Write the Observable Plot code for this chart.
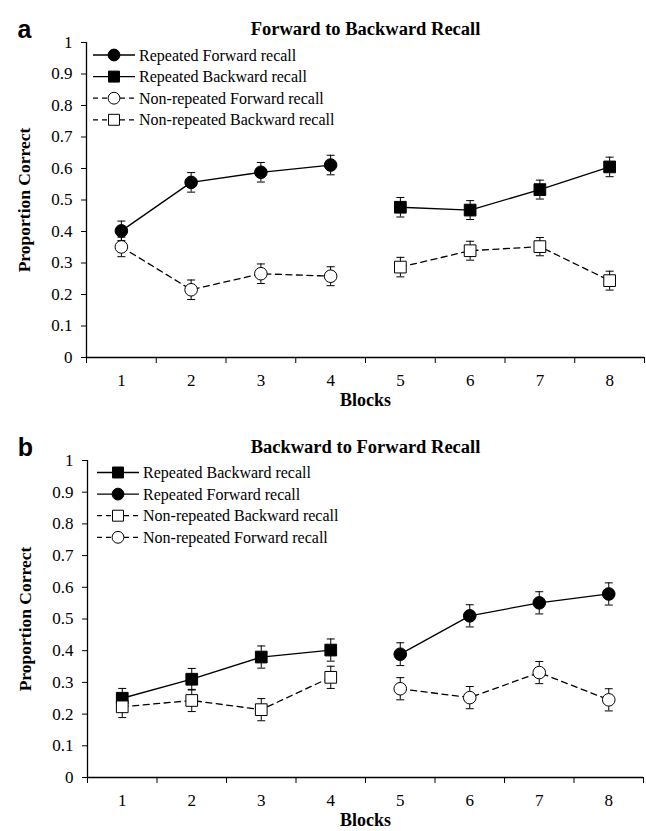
<!DOCTYPE html>
<html><head><meta charset="utf-8">
<script src="https://cdn.jsdelivr.net/npm/d3@7"></script>
<script src="https://cdn.jsdelivr.net/npm/@observablehq/plot@0.6"></script>
<style>
body{margin:0;background:#fff}
#chart{width:646px;height:831px}
#chart svg{display:block;overflow:visible;font-family:'Liberation Serif','Times New Roman',serif !important;font-size:17px !important;color:black}
</style>
</head><body><div id="chart"></div>
<script>
// ---- data ----
const blocksFirst = [1, 2, 3, 4];
const blocksSecond = [5, 6, 7, 8];
const xTickLabels = [1, 2, 3, 4, 5, 6, 7, 8];
const xBoundaries = [0.5, 1.5, 2.5, 3.5, 4.5, 5.5, 6.5, 7.5, 8.5];
const yTicks = [0, 0.1, 0.2, 0.3, 0.4, 0.5, 0.6, 0.7, 0.8, 0.9, 1];

// Panel a: Forward to Backward Recall
const aRepeatedForward = [0.402, 0.556, 0.588, 0.611];
const aRepeatedForwardErr = [0.031, 0.031, 0.031, 0.031];
const aRepeatedBackward = [0.477, 0.468, 0.533, 0.605];
const aRepeatedBackwardErr = [0.031, 0.030, 0.030, 0.031];
const aNonForward = [0.351, 0.215, 0.266, 0.258];
const aNonForwardErr = [0.031, 0.031, 0.031, 0.030];
const aNonBackward = [0.287, 0.339, 0.352, 0.244];
const aNonBackwardErr = [0.031, 0.030, 0.029, 0.030];

// Panel b: Backward to Forward Recall
const bRepeatedBackward = [0.250, 0.310, 0.380, 0.402];
const bRepeatedBackwardErr = [0.031, 0.034, 0.035, 0.035];
const bRepeatedForward = [0.389, 0.510, 0.551, 0.579];
const bRepeatedForwardErr = [0.036, 0.035, 0.035, 0.035];
const bNonBackward = [0.223, 0.243, 0.214, 0.316];
const bNonBackwardErr = [0.034, 0.035, 0.035, 0.035];
const bNonForward = [0.280, 0.252, 0.331, 0.245];
const bNonForwardErr = [0.035, 0.035, 0.035, 0.035];

const serif = "'Liberation Serif','Times New Roman',serif";
const cap = {draw(ctx) { ctx.moveTo(-4, 0); ctx.lineTo(4, 0); }};

function series(name, blocks, values, err, shape, filled, dashed) {
  return {name, shape, filled, dashed,
    rows: blocks.map((b, i) => ({x: b, y: values[i], e: err[i]}))};
}

function panel(cfg) {
  const marks = [
    Plot.axisY(yTicks, {tickSize: 5, tickPadding: 9, label: null,
      tickFormat: d => String(+d.toFixed(1))}),
    Plot.axisX(xBoundaries, {tickSize: 6, tickFormat: () => "", label: null}),
    Plot.axisX(xTickLabels, {tickSize: 0, tickPadding: 16, label: null}),
    Plot.ruleX([0.5], {stroke: "black", strokeWidth: 1.3}),
    Plot.ruleY([0], {stroke: "black", strokeWidth: 1.3})
  ];
  for (const s of cfg.series) {
    marks.push(Plot.line(s.rows, {x: "x", y: "y", stroke: "black", strokeWidth: 1.3,
      strokeDasharray: s.dashed ? "6,4.5" : null}));
  }
  for (const s of cfg.series) {
    marks.push(Plot.ruleX(s.rows, {x: "x", y1: d => d.y - d.e, y2: d => d.y + d.e, stroke: "black", strokeWidth: 1}));
    marks.push(Plot.dot(s.rows, {x: "x", y: d => d.y + d.e, symbol: cap, fill: "none", stroke: "black", strokeWidth: 1}));
    marks.push(Plot.dot(s.rows, {x: "x", y: d => d.y - d.e, symbol: cap, fill: "none", stroke: "black", strokeWidth: 1}));
  }
  for (const s of cfg.series) {
    marks.push(Plot.dot(s.rows, {x: "x", y: "y", symbol: s.shape,
      r: s.shape === "square" ? 6.6 : 6.3,
      fill: s.filled ? "black" : "white", stroke: "black", strokeWidth: 1}));
  }
  marks.push(Plot.text([cfg.title], {text: d => d, frameAnchor: "top", dy: -21,
    fontWeight: "bold", fontSize: 18.5, fontFamily: serif, textAnchor: "middle"}));
  marks.push(Plot.text([cfg.letter], {text: d => d, frameAnchor: "top-left", dx: -62, dy: -22,
    fontWeight: "bold", fontSize: 25, fontFamily: "'Liberation Sans',Arial,sans-serif", textAnchor: "middle"}));
  marks.push(Plot.text(["Proportion Correct"], {text: d => d, frameAnchor: "left", dx: -62, rotate: -90,
    fontWeight: "bold", fontSize: 17.5, fontFamily: serif, textAnchor: "middle"}));
  marks.push(Plot.text(["Blocks"], {text: d => d, frameAnchor: "bottom", dy: 48,
    fontWeight: "bold", fontSize: 18, fontFamily: serif, textAnchor: "middle"}));

  const svg = Plot.plot({
    width: 646, height: cfg.height,
    marginTop: cfg.marginTop, marginBottom: cfg.marginBottom,
    marginLeft: cfg.marginLeft, marginRight: cfg.marginRight,
    x: {domain: [0.5, 8.5]},
    y: {domain: [0, 1]},
    style: {fontFamily: serif, fontSize: "17px", color: "black", background: "white"},
    marks
  });

  // legend
  const g = d3.select(svg).append("g").attr("font-family", serif).attr("font-size", 16)
    .attr("text-anchor", "start");
  cfg.series.forEach((s, i) => {
    const y = cfg.legendTop + i * 21.6;
    const x0 = cfg.legendX;
    g.append("line").attr("x1", x0).attr("x2", x0 + 42).attr("y1", y).attr("y2", y)
      .attr("stroke", "black").attr("stroke-width", 1.3)
      .attr("stroke-dasharray", s.dashed ? "5,4" : null);
    const size = s.shape === "square" ? 120 : 110;
    g.append("path").attr("transform", `translate(${x0 + 21},${y})`)
      .attr("d", d3.symbol(s.shape === "square" ? d3.symbolSquare : d3.symbolCircle, size)())
      .attr("fill", s.filled ? "black" : "white").attr("stroke", "black").attr("stroke-width", 1);
    g.append("text").attr("x", x0 + 46).attr("y", y).attr("dy", "0.35em")
      .attr("text-anchor", "start").text(s.name);
  });
  return svg;
}

const chart = document.getElementById("chart");
chart.appendChild(panel({
  height: 415, marginTop: 42, marginBottom: 58, marginLeft: 86, marginRight: 2,
  letter: "a", title: "Forward to Backward Recall", legendX: 93, legendTop: 55,
  series: [
    series("Repeated Forward recall", blocksFirst, aRepeatedForward, aRepeatedForwardErr, "circle", true, false),
    series("Repeated Backward recall", blocksSecond, aRepeatedBackward, aRepeatedBackwardErr, "square", true, false),
    series("Non-repeated Forward recall", blocksFirst, aNonForward, aNonForwardErr, "circle", false, true),
    series("Non-repeated Backward recall", blocksSecond, aNonBackward, aNonBackwardErr, "square", false, true)
  ]
}));
chart.appendChild(panel({
  height: 416, marginTop: 45, marginBottom: 54, marginLeft: 87, marginRight: 3,
  letter: "b", title: "Backward to Forward Recall", legendX: 97, legendTop: 57.5,
  series: [
    series("Repeated Backward recall", blocksFirst, bRepeatedBackward, bRepeatedBackwardErr, "square", true, false),
    series("Repeated Forward recall", blocksSecond, bRepeatedForward, bRepeatedForwardErr, "circle", true, false),
    series("Non-repeated Backward recall", blocksFirst, bNonBackward, bNonBackwardErr, "square", false, true),
    series("Non-repeated Forward recall", blocksSecond, bNonForward, bNonForwardErr, "circle", false, true)
  ]
}));
</script>
</body></html>
